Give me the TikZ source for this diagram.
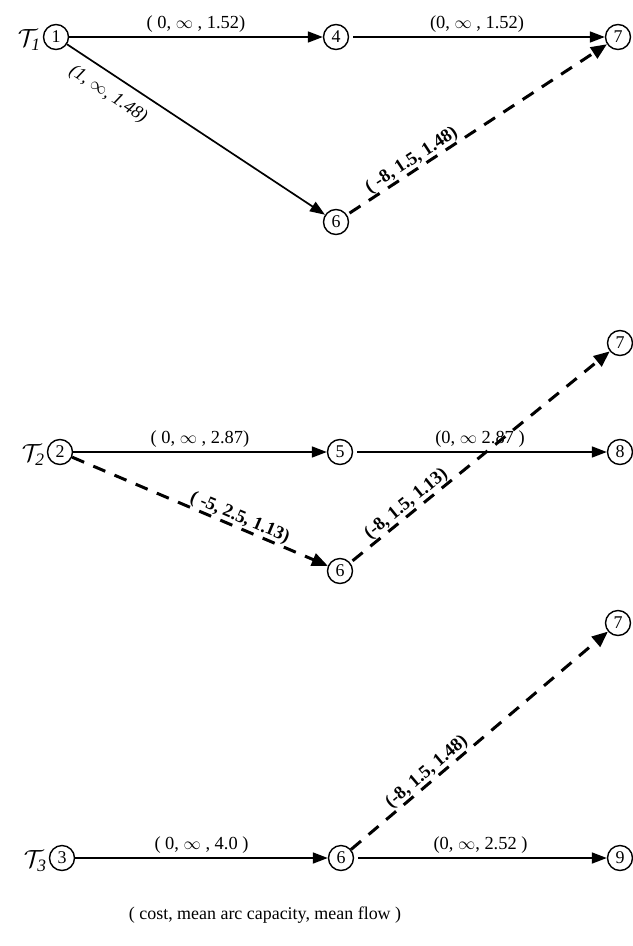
\documentclass[tikz,border=0pt]{standalone}
\usepackage{fontspec}
\setmainfont{Liberation Serif}
\usetikzlibrary{arrows.meta}
\begin{document}
\begin{tikzpicture}[x=1bp,y=-1bp,
  nd/.style={circle,draw,line width=1.4bp,inner sep=0pt,minimum size=25bp,font=\fontsize{18}{18}\selectfont},
  arc/.style={line width=1.7bp,-{Triangle[length=15bp,width=11bp]}},
  darc/.style={line width=3bp,dash pattern=on 13bp off 10bp,-{Triangle[length=16bp,width=13bp]}},
  lab/.style={font=\fontsize{18.5}{18.5}\selectfont,inner sep=1bp},
  dlab/.style={font=\fontsize{18.5}{18.5}\selectfont\bfseries,inner sep=1bp},
  tl/.style={font=\fontsize{25}{25}\selectfont,inner sep=0pt,anchor=east}]
\useasboundingbox (0,0) rectangle (633,946);
% nodes
\node[nd] (n1) at (56,37) {1};
\node[nd] (n4) at (336,37) {4};
\node[nd] (n7a) at (618,37) {7};
\node[nd] (n6a) at (336,222) {6};
\node[nd] (n2) at (60,452) {2};
\node[nd] (n5) at (340,452) {5};
\node[nd] (n8) at (620,452) {8};
\node[nd] (n7b) at (620,343) {7};
\node[nd] (n6b) at (340,571) {6};
\node[nd] (n3) at (62,858) {3};
\node[nd] (n6c) at (341,858) {6};
\node[nd] (n9) at (620,858) {9};
\node[nd] (n7c) at (618,623) {7};
% tree labels
\node[tl] (t1) at ([xshift=-2bp,yshift=-3bp]n1.west) {$\mathcal{T}_{\mathit{1}}$};
\node[tl] (t2) at ([xshift=-2bp,yshift=-3bp]n2.west) {$\mathcal{T}_{\mathit{2}}$};
\node[tl] (t3) at ([xshift=-2bp,yshift=-3bp]n3.west) {$\mathcal{T}_{\mathit{3}}$};
% tree 1
\draw[arc] (n1) -- node[lab,midway,above=3bp] {( 0, $\infty$ , 1.52)} (n4);
\draw[arc,shorten <=4bp] (n4) -- node[lab,midway,above=3bp] {(0, $\infty$ , 1.52)} (n7a);
\draw[arc] (n1) -- node[lab,pos=0.2,sloped,below=9bp] {\itshape (1, $\infty$, 1.48)} (n6a);
\draw[darc,shorten <=3bp] (n6a) -- node[dlab,pos=0.27,sloped,above=-1bp] {( -8, 1.5, 1.48)} (n7a);
% tree 2
\draw[arc] (n2) -- node[lab,midway,above=3bp] {( 0, $\infty$ , 2.87)} (n5);
\draw[arc,shorten <=4bp] (n5) -- node[lab,midway,above=3bp] {(0, $\infty$ 2.87 )} (n8);
\draw[darc] (n2) -- node[dlab,pos=0.64,sloped,above=-1bp] {( -5, 2.5, 1.13)} (n6b);
\draw[darc,shorten <=3bp] (n6b) -- node[dlab,pos=0.24,sloped,above=-1bp] {(-8, 1.5, 1.13)} (n7b);
% tree 3
\draw[arc] (n3) -- node[lab,midway,above=3bp] {( 0, $\infty$ , 4.0 )} (n6c);
\draw[arc,shorten <=4bp] (n6c) -- node[lab,midway,above=3bp] {(0, $\infty$, 2.52 )} (n9);
\draw[darc] (n6c) -- node[dlab,pos=0.32,sloped,above=-1bp] {(-8, 1.5, 1.48)} (n7c);
% caption
\node[lab,font=\fontsize{18}{18}\selectfont] (cap) at (265,915) {( cost, mean arc capacity, mean flow )};
\end{tikzpicture}
\end{document}
